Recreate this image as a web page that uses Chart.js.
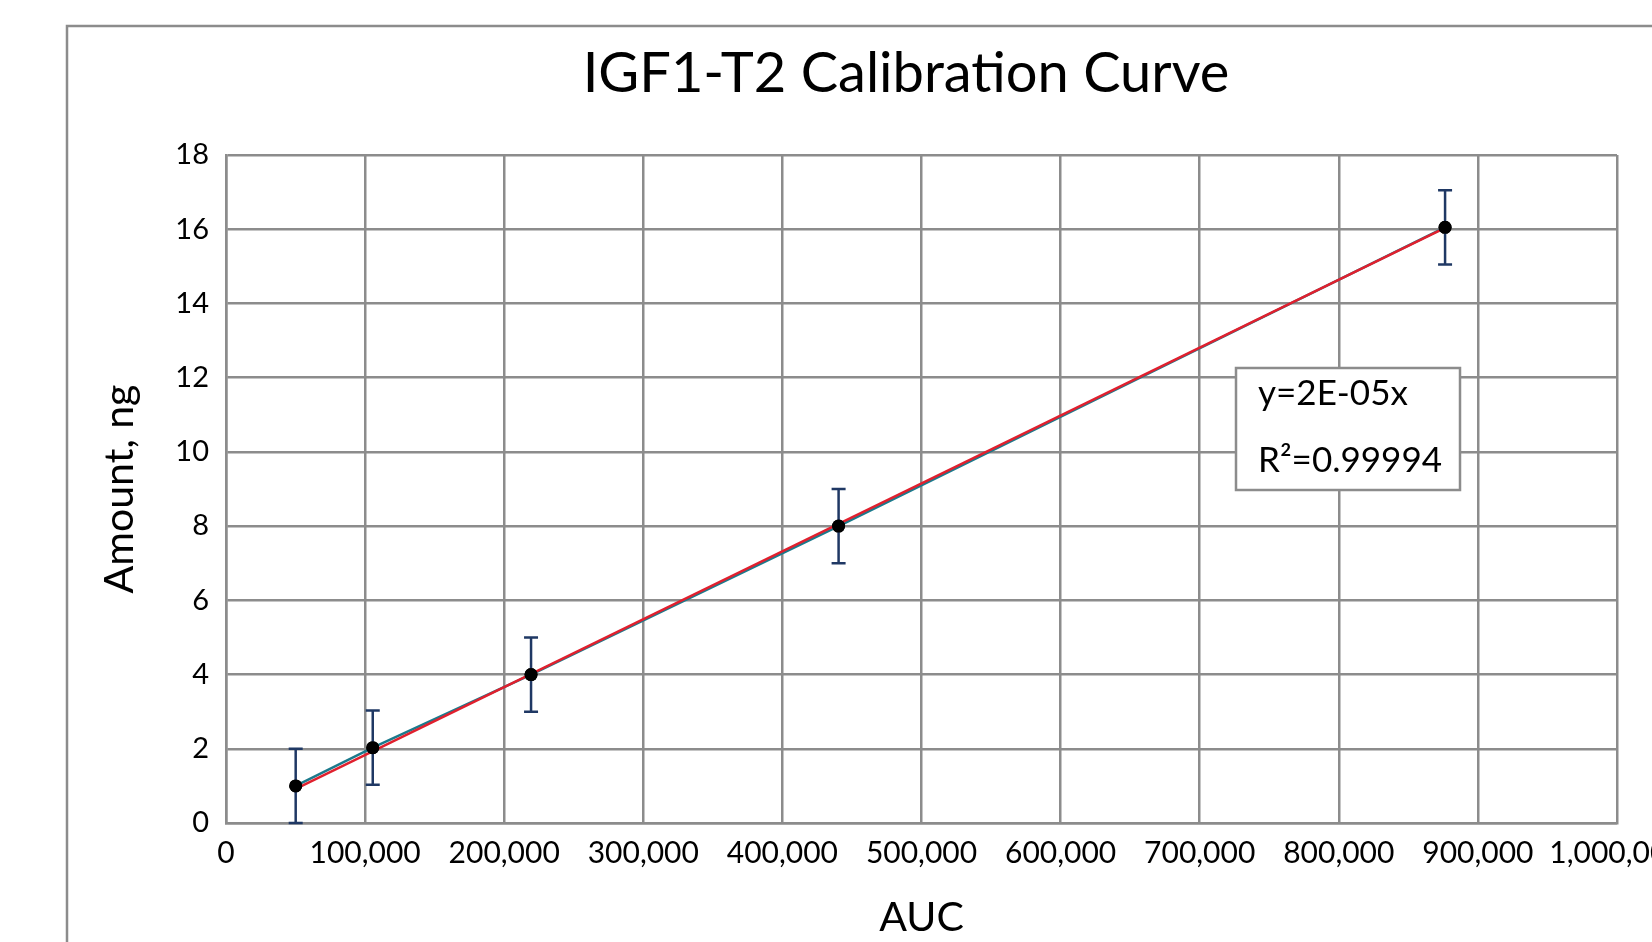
<!DOCTYPE html>
<html>
<head>
<meta charset="utf-8">
<title>IGF1-T2 Calibration Curve</title>
<script src="https://cdn.jsdelivr.net/npm/chart.js@4.4.1/dist/chart.umd.min.js"></script>
<style>
    html, body { margin: 0; padding: 0; background: #ffffff; overflow: hidden; }
    #wrap { position: relative; width: 1652px; height: 942px; }
</style>
</head>
<body>
<div id="wrap"><canvas id="calib-chart" width="1652" height="942"></canvas></div>
<script>
(function() {
    'use strict';

    // Calibration data
    var auc = [50100, 105500, 219300, 440400, 876400];
    var amount = [1, 2.03, 4, 8, 16.05];
    var errPlus = [1, 1, 1, 1, 1];
    var errMinus = [1, 1, 1, 1, 1];

    var xTicks = [0, 100000, 200000, 300000, 400000, 500000, 600000, 700000, 800000, 900000, 1000000];
    var yTicks = [0, 2, 4, 6, 8, 10, 12, 14, 16, 18];

    var chartTitle = 'IGF1-T2 Calibration Curve';
    var eqLines = ['y=2E-05x', 'R\u00B2=0.99994'];

    var FONT = 'Lato, "Noto Sans", sans-serif';
    var GRID = '#8c8c8c';

    // Linear fit through the origin, as the trendline in the source
    var sxy = 0, sxx = 0;
    for (var i = 0; i < auc.length; i++) {
        sxy += auc[i] * amount[i];
        sxx += auc[i] * auc[i];
    }
    var slope = sxy / sxx;
    var trend = [
        { x: auc[0], y: slope * auc[0] },
        { x: auc[auc.length - 1], y: slope * auc[auc.length - 1] }
    ];

    var points = auc.map(function(x, k) { return { x: x, y: amount[k] }; });

    // outer frame, title, error bars and equation box
    var decorPlugin = {
        id: 'decor',
        beforeDraw: function(chart) {
            var c = chart.ctx;
            c.save();
            c.strokeStyle = GRID;
            c.lineWidth = 2.5;
            c.strokeRect(67, 26, 1700, 1000);
            c.fillStyle = '#000';
            c.font = '56px ' + FONT;
            c.textAlign = 'center';
            c.textBaseline = 'middle';
            c.fillText(chartTitle, 906, 74);
            c.restore();
        },
        afterDatasetsDraw: function(chart) {
            var c = chart.ctx;
            var xs = chart.scales.x, ys = chart.scales.y;
            c.save();
            c.strokeStyle = '#1f3864';
            c.lineWidth = 2.5;
            for (var k = 0; k < auc.length; k++) {
                var px = xs.getPixelForValue(auc[k]);
                var top = ys.getPixelForValue(amount[k] + errPlus[k]);
                var bot = ys.getPixelForValue(amount[k] - errMinus[k]);
                c.beginPath();
                c.moveTo(px, top); c.lineTo(px, bot);
                c.moveTo(px - 7, top); c.lineTo(px + 7, top);
                c.moveTo(px - 7, bot); c.lineTo(px + 7, bot);
                c.stroke();
            }
            // redraw markers over the bars
            var meta = chart.getDatasetMeta(2);
            c.fillStyle = '#000';
            meta.data.forEach(function(el) {
                c.beginPath();
                c.arc(el.x, el.y, 6.5, 0, Math.PI * 2);
                c.fill();
            });
            // equation box
            c.fillStyle = '#fff';
            c.fillRect(1236, 368, 224, 122);
            c.strokeStyle = GRID;
            c.lineWidth = 2.5;
            c.strokeRect(1236, 368, 224, 122);
            c.fillStyle = '#000';
            c.font = '35px ' + FONT;
            c.textAlign = 'left';
            c.textBaseline = 'middle';
            c.fillText(eqLines[0], 1258, 394);
            c.fillText(eqLines[1], 1258, 461);
            c.restore();
        }
    };

    function initChart() {
        var ctx = document.getElementById('calib-chart');
        if (!ctx) return;

        new Chart(ctx, {
            type: 'scatter',
            data: {
                datasets: [{
                    label: 'Series',
                    data: points,
                    showLine: true,
                    borderColor: '#1b7a8c',
                    borderWidth: 2.5,
                    pointRadius: 0,
                    order: 3
                }, {
                    label: 'Linear fit',
                    data: trend,
                    showLine: true,
                    borderColor: '#e0202e',
                    borderWidth: 2.5,
                    pointRadius: 0,
                    order: 2
                }, {
                    label: 'Points',
                    data: points,
                    showLine: false,
                    pointRadius: 6.5,
                    pointBackgroundColor: '#000',
                    pointBorderWidth: 0,
                    order: 1
                }]
            },
            options: {
                responsive: false,
                animation: false,
                layout: { padding: { left: 95, right: 35, top: 155, bottom: 0 } },
                plugins: {
                    legend: { display: false },
                    tooltip: { enabled: false }
                },
                scales: {
                    x: {
                        type: 'linear',
                        min: 0,
                        max: 1000000,
                        afterBuildTicks: function(s) { s.ticks = xTicks.map(function(v) { return { value: v }; }); },
                        afterFit: function(s) { s.height = 119; s.paddingLeft = 0; s.paddingRight = 0; },
                        grid: { color: GRID, lineWidth: 2.5, drawTicks: false },
                        border: { color: GRID, width: 2.5 },
                        ticks: {
                            autoSkip: false,
                            maxRotation: 0,
                            padding: 12,
                            color: '#000',
                            font: { family: FONT, size: 30 },
                            callback: function(v) { return v.toLocaleString('en-US'); }
                        },
                        title: {
                            display: true,
                            text: 'AUC',
                            color: '#000',
                            font: { family: FONT, size: 41 },
                            padding: { top: 0, bottom: 0 }
                        }
                    },
                    y: {
                        type: 'linear',
                        min: 0,
                        max: 18,
                        afterBuildTicks: function(s) { s.ticks = yTicks.map(function(v) { return { value: v }; }); },
                        afterFit: function(s) { s.width = 131; s.paddingTop = 0; s.paddingBottom = 0; },
                        grid: { color: GRID, lineWidth: 2.5, drawTicks: false },
                        border: { color: GRID, width: 2.5 },
                        ticks: {
                            padding: 17,
                            color: '#000',
                            font: { family: FONT, size: 29 }
                        },
                        title: {
                            display: true,
                            text: 'Amount, ng',
                            color: '#000',
                            font: { family: FONT, size: 41 },
                            padding: { top: 0, bottom: 0 }
                        }
                    }
                }
            },
            plugins: [decorPlugin]
        });
    }

    if (document.readyState === 'loading') {
        document.addEventListener('DOMContentLoaded', initChart);
    } else {
        initChart();
    }
})();
</script>
</body>
</html>
